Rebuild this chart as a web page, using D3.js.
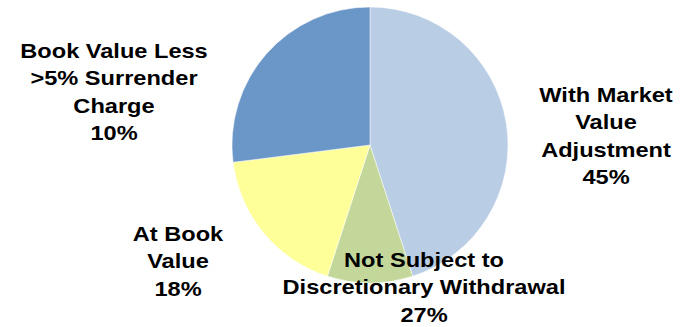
<!DOCTYPE html>
<html>
<head>
<meta charset="utf-8">
<script src="https://cdn.jsdelivr.net/npm/d3@7"></script>
<style>
  html, body { margin: 0; padding: 0; background: #fff; }
  .pie-label { font-family: "Liberation Sans", Arial, sans-serif; font-weight: bold; font-size: 20px; fill: #000; }
</style>
</head>
<body>
<div id="chart"></div>
<script>
// slice order clockwise from 12 o'clock
var categories = ["With Market Value Adjustment", "Not Subject to Discretionary Withdrawal",
    "At Book Value", "Book Value Less >5% Surrender Charge"];
var values = [45, 10, 18, 27];
// percent text as printed on the original chart
var labelPercents = ["45%", "27%", "18%", "10%"];
var labelLines = [
  ["With Market", "Value", "Adjustment"],
  ["Not Subject to", "Discretionary Withdrawal"],
  ["At Book", "Value"],
  ["Book Value Less", ">5% Surrender", "Charge"]
];
var colors = ["#b9cde5", "#c4d79b", "#ffff99", "#6a96c8"];

var width = 687, height = 327;
var cx = 370, cy = 145, radius = 138;

// label anchor (center x, first baseline y) for each slice
var labelPos = [[606, 102], [424, 267], [178, 241], [114, 58]];
var lineHeight = 27.5;
var stretchX = 1.18;

var svg = d3.select("#chart")
    .append("svg")
    .attr("width", width)
    .attr("height", height);

var pie = d3.pie().sort(null).value(function(d) { return d; });
var arc = d3.arc().innerRadius(0).outerRadius(radius);

var g = svg.append("g").attr("transform", "translate(" + cx + "," + cy + ")");

g.selectAll("path.slice")
    .data(pie(values))
    .enter()
    .append("path")
    .attr("class", "slice")
    .attr("d", arc)
    .attr("fill", function(d, i) { return colors[i]; })
    .attr("stroke", "#fff")
    .attr("stroke-width", 0.5);

var labels = svg.selectAll("g.label")
    .data(categories)
    .enter()
    .append("g")
    .attr("class", "label")
    .attr("transform", function(d, i) {
      return "translate(" + labelPos[i][0] + "," + labelPos[i][1] + ") scale(" + stretchX + ",1)";
    });

labels.each(function(d, i) {
  var lines = labelLines[i].concat([labelPercents[i]]);
  d3.select(this)
    .selectAll("text")
    .data(lines)
    .enter()
    .append("text")
    .attr("class", "pie-label")
    .attr("text-anchor", "middle")
    .attr("x", 0)
    .attr("y", function(t, k) { return k * lineHeight; })
    .text(function(t) { return t; });
});
</script>
</body>
</html>
